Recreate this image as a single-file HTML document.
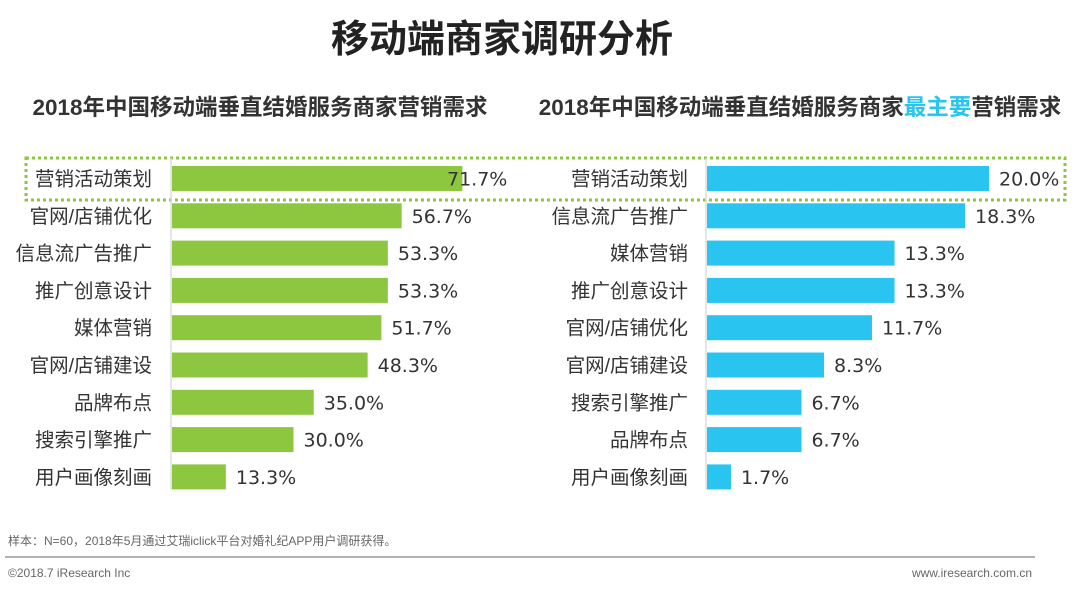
<!DOCTYPE html>
<html><head><meta charset="utf-8"><style>
body{margin:0;background:#fff;}
svg text{font-family:"Liberation Sans","Noto Sans CJK SC",sans-serif;}
svg text.val{font-family:"DejaVu Sans","Liberation Sans",sans-serif;}
</style></head><body>
<svg id="chart" width="1080" height="587" viewBox="0 0 1080 587" xmlns="http://www.w3.org/2000/svg">
<text x="502" y="52" text-anchor="middle" font-size="38" font-weight="bold" fill="#222">移动端商家调研分析</text>
<text x="260" y="115" text-anchor="middle" font-size="22.5" font-weight="bold" fill="#333">2018年中国移动端垂直结婚服务商家营销需求</text>
<text x="800" y="115" text-anchor="middle" font-size="22.5" font-weight="bold" fill="#333">2018年中国移动端垂直结婚服务商家<tspan fill="#29c4ef">最主要</tspan>营销需求</text>
<rect x="26" y="158" width="1039" height="42" fill="none" stroke="#8dc63f" stroke-width="3" stroke-dasharray="3,3"/>
<g id="left"></g>
<g id="right"></g>
<text x="8" y="545" font-size="12" fill="#666">样本：N=60，2018年5月通过艾瑞iclick平台对婚礼纪APP用户调研获得。</text>
<line x1="5" y1="557" x2="1035" y2="557" stroke="#999" stroke-width="1.5"/>
<text x="8" y="577" font-size="12" fill="#666">©2018.7 iResearch Inc</text>
<text x="1032" y="577" text-anchor="end" font-size="12" fill="#666">www.iresearch.com.cn</text>
</svg>
<script>
const leftCategories=["营销活动策划","官网/店铺优化","信息流广告推广","推广创意设计","媒体营销","官网/店铺建设","品牌布点","搜索引擎推广","用户画像刻画"];
const leftValues=[71.7,56.7,53.3,53.3,51.7,48.3,35.0,30.0,13.3];
const rightCategories=["营销活动策划","信息流广告推广","媒体营销","推广创意设计","官网/店铺优化","官网/店铺建设","搜索引擎推广","品牌布点","用户画像刻画"];
const rightValues=[20.0,18.3,13.3,13.3,11.7,8.3,6.7,6.7,1.7];
const NS="http://www.w3.org/2000/svg";
function mk(tag,attrs,parent){const e=document.createElementNS(NS,tag);for(const k in attrs)e.setAttribute(k,attrs[k]);parent.appendChild(e);return e;}
function draw(gid,cats,vals,x0,scale,labelX,color,maxLabelX,prefix){
  const g=document.getElementById(gid);
  const yTop=158,step=37.3,bh=25;
  const ax=mk('line',{x1:x0,y1:yTop,x2:x0,y2:yTop+step*cats.length-4,stroke:'#ddd','stroke-width':1.5},g);
  
  
  cats.forEach((c,i)=>{
    const cy=yTop+20.5+i*step;
    const w=vals[i]*scale;
    const r=mk('rect',{x:x0+1,y:cy-bh/2,width:w,height:bh,fill:color},g);
    
    
    const t=mk('text',{x:labelX,y:cy+7,'text-anchor':'end','font-size':19.5,fill:'#333'},g);
    t.textContent=c;
    
    
    const vx=Math.min(x0+w+11,maxLabelX);
    const v=mk('text',{x:vx,y:cy+7,'font-size':19,fill:'#333','class':'val'},g);
    v.textContent=vals[i].toFixed(1)+'%';
    
    
  });
}
draw('left',leftCategories,leftValues,171,4.05,152,'#8dc63f',447,'left');
draw('right',rightCategories,rightValues,706,14.1,688,'#29c4ef',1000,'right');
</script>
</body></html>
